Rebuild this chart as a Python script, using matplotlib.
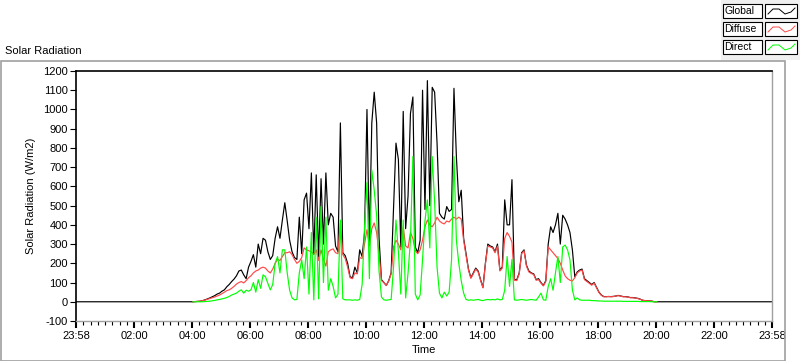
import matplotlib
matplotlib.use("Agg")
import matplotlib.pyplot as plt
from matplotlib.patches import Rectangle
from matplotlib.lines import Line2D
import numpy as np

plt.rcParams["font.family"] = ["Liberation Sans", "DejaVu Sans"]
plt.rcParams["font.size"] = 8

# readings every 5 min from 04:00 to 20:00 (W/m2); zero outside that span
START_H = 4.0
STEP_MIN = 5
global_wm2 = [
    0, 1, 2, 3, 6, 10, 15, 20, 26, 32, 40, 45,                      # 04
    55, 62, 78, 90, 105, 118, 135, 160, 165, 140, 120, 180,         # 05
    210, 245, 180, 300, 250, 330, 320, 260, 220, 240, 330, 390,     # 06
    330, 425, 515, 420, 320, 260, 230, 220, 440, 250, 530, 565,     # 07
    380, 670, 250, 660, 230, 640, 300, 670, 400, 460, 440, 290,     # 08
    260, 930, 255, 240, 200, 130, 125, 180, 150, 270, 235, 360,     # 09
    1000, 300, 930, 1090, 930, 330, 115, 100, 85, 110, 150, 495,    # 10
    825, 740, 285, 990, 380, 550, 980, 1065, 285, 255, 320, 1100,   # 11
    480, 1150, 500, 1115, 1090, 825, 460, 440, 430, 495, 470, 480,  # 12
    1110, 755, 520, 580, 330, 250, 170, 125, 150, 175, 160, 115,    # 13
    75, 200, 300, 290, 285, 260, 300, 165, 180, 530, 400, 400,      # 14
    635, 115, 115, 150, 255, 270, 190, 160, 150, 145, 115, 120,     # 15
    100, 85, 110, 300, 390, 360, 400, 460, 300, 450, 430, 400,      # 16
    360, 270, 130, 155, 165, 170, 120, 110, 100, 90, 100, 75,       # 17
    50, 35, 27, 27, 27, 27, 28, 30, 33, 30, 27, 27,                 # 18
    25, 22, 22, 20, 18, 14, 8, 6, 5, 5, 3, 0,                       # 19
    0,
]
diffuse_wm2 = [
    0, 1, 2, 3, 6, 9, 13, 17, 21, 25, 30, 35,
    42, 50, 58, 62, 70, 80, 92, 100, 105, 98, 110, 125,
    135, 150, 160, 165, 175, 180, 175, 160, 150, 170, 200, 220,
    215, 235, 255, 255, 260, 245, 220, 200, 210, 230, 280, 270,
    265, 260, 245, 270, 215, 270, 220, 185, 260, 270, 275, 255,
    250, 410, 245, 225, 180, 125, 120, 150, 145, 230, 225, 300,
    375, 290, 380, 410, 360, 250, 110, 100, 85, 108, 145, 285,
    320, 300, 270, 390, 290, 280, 360, 330, 265, 250, 270, 320,
    390, 425, 400, 390, 410, 440, 420, 410, 405, 420, 415, 430,
    440, 430, 440, 430, 320, 240, 165, 122, 145, 170, 155, 112,
    72, 195, 290, 285, 280, 255, 290, 160, 175, 330, 360, 340,
    310, 112, 110, 145, 250, 265, 185, 155, 147, 142, 112, 115,
    97, 82, 105, 285, 270, 255, 240, 225, 200, 165, 135, 120,
    112, 108, 125, 150, 160, 165, 115, 105, 96, 86, 97, 72,
    48, 33, 26, 26, 28, 26, 27, 30, 32, 29, 26, 26,
    24, 21, 21, 19, 17, 13, 8, 6, 5, 5, 3, 0,
    0,
]
direct_wm2 = [
    0, 0, 0, 0, 0, 1, 2, 3, 5, 7, 10, 12,
    15, 18, 22, 28, 35, 40, 45, 55, 62, 45, 60, 55,
    62, 100, 50, 115, 70, 140, 130, 95, 62, 90, 200, 235,
    150, 270, 270, 150, 60, 20, 10, 12, 150, 218, 120, 285,
    40, 360, 10, 440, 15, 495, 100, 440, 60, 120, 80, 20,
    40, 425, 15, 10, 10, 10, 8, 10, 8, 12, 90, 390,
    620, 120, 685, 580, 450, 160, 25, 10, 8, 10, 12, 180,
    425, 260, 40, 425, 20, 150, 320, 755, 40, 10, 35, 220,
    420, 530, 280, 755, 520, 180, 45, 20, 50, 30, 50, 218,
    755, 320, 200, 110, 45, 12, 8, 10, 8, 10, 12, 8,
    6, 10, 12, 10, 12, 10, 15, 10, 12, 60, 235, 80,
    220, 10, 8, 10, 12, 10, 8, 10, 12, 10, 8, 25,
    45, 10, 8, 80, 120, 60, 150, 235, 100, 285, 295, 270,
    218, 62, 10, 20, 10, 8, 8, 8, 8, 6, 6, 5,
    4, 4, 3, 3, 3, 3, 3, 3, 3, 3, 2, 2,
    2, 2, 2, 2, 2, 1, 1, 1, 1, 1, 0, 0,
    0,
]

# axis runs from 23:58 to 23:58 (hours of day)
X_START = -2 / 60
X_END = 24 - 2 / 60
x_tick_labels = ["23:58", "02:00", "04:00", "06:00", "08:00", "10:00", "12:00",
                 "14:00", "16:00", "18:00", "20:00", "22:00", "23:58"]
y_ticks = list(range(-100, 1201, 100))

series = [("Global", global_wm2, "#000000"),
          ("Diffuse", diffuse_wm2, "#ff4848"),
          ("Direct", direct_wm2, "#00ff00")]

W, H = 800, 361


def fx(px):
    return px / W


def fy(py):
    return 1 - py / H


fig = plt.figure(figsize=(W / 100, H / 100), dpi=100)
fig.patch.set_facecolor("white")

# outer grey frame and title
fig.add_artist(Rectangle((fx(0.5), fy(360.5)), fx(785) - fx(0.5), fy(61) - fy(360.5),
                         transform=fig.transFigure, fill=False, ec="#a0a0a0", lw=1.2))
fig.text(fx(5), fy(51), "Solar Radiation", ha="left", va="center", fontsize=8)

ax = fig.add_axes([fx(76), fy(321), fx(772) - fx(76), fy(71) - fy(321)])

t = START_H + np.arange(len(global_wm2)) * STEP_MIN / 60
# the global trace carries the night-time zero line across the whole axis
ax.plot(np.r_[X_START, t, X_END], np.r_[0, global_wm2, 0], color="#000000", lw=0.85)
for name, vals, color in series[1:]:
    ax.plot(t, vals, color=color, lw=0.85)

ax.set_xlim(X_START, X_END)
ax.set_ylim(-100, 1200)
ax.set_yticks(y_ticks)
ax.set_yticklabels([str(v) for v in y_ticks])
major = X_START + 2 * np.arange(len(x_tick_labels))
ax.set_xticks(major)
ax.set_xticklabels(x_tick_labels)
ax.set_xticks(X_START + 0.25 * np.arange(int(24 / 0.25) + 1), minor=True)
ax.tick_params(axis="y", which="major", length=4, width=0.8, pad=2, labelsize=8)
ax.tick_params(axis="x", which="major", length=5, width=1.5, pad=2, labelsize=8,
               direction="out")
ax.tick_params(axis="x", which="minor", length=3, width=0.8, direction="out")

for side in ("top", "left"):
    ax.spines[side].set_color("black")
    ax.spines[side].set_linewidth(1.2)
for side in ("bottom", "right"):
    ax.spines[side].set_color("#a0a0a0")
    ax.spines[side].set_linewidth(1.0)

ax.set_xlabel("Time", fontsize=8, labelpad=3)
ax.set_ylabel("Solar Radiation (W/m2)", fontsize=8, labelpad=5)

# LabVIEW style plot legend, top right
fig.add_artist(Rectangle((fx(721), fy(60)), fx(800) - fx(721), fy(0) - fy(60),
                         transform=fig.transFigure, fc="#f0f0f0", ec="none"))
for i, (name, vals, color) in enumerate(series):
    top = 4 + i * 18
    fig.add_artist(Rectangle((fx(723), fy(top + 14)), fx(762) - fx(723), fy(top) - fy(top + 14),
                             transform=fig.transFigure, fc="white", ec="black", lw=0.8))
    fig.text(fx(724.5), fy(top + 7.5), name, ha="left", va="center", fontsize=7.5,
             family=["Liberation Sans Narrow", "Liberation Sans", "DejaVu Sans"])
    fig.add_artist(Rectangle((fx(765), fy(top + 14)), fx(797) - fx(765), fy(top) - fy(top + 14),
                             transform=fig.transFigure, fc="white", ec="black", lw=0.8))
    zx = [768, 773, 779, 785, 791, 795]
    zy = [top + 10, top + 5, top + 5, top + 10, top + 8, top + 4]
    fig.add_artist(Line2D([fx(v) for v in zx], [fy(v) for v in zy],
                          transform=fig.transFigure, color=color, lw=0.7))

fig.savefig("out.png", dpi=100)
